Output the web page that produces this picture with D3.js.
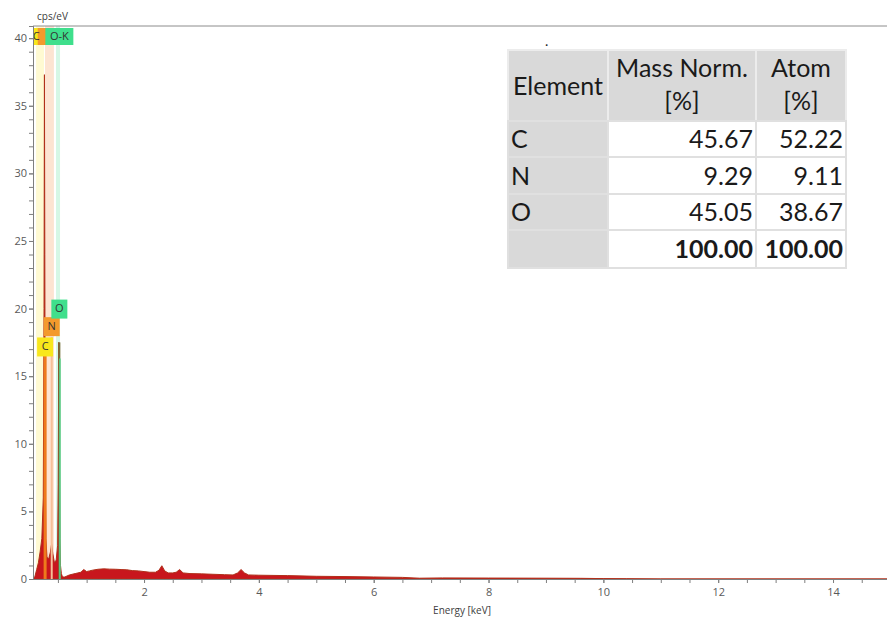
<!DOCTYPE html>
<html>
<head>
<meta charset="utf-8">
<script src="https://cdn.jsdelivr.net/npm/d3@7"></script>
<style>
  body { margin: 0; background: #fff; }
  svg { display: block; }
</style>
</head>
<body>
<div id="chart"></div>
<script>
// Size of the page and of the plot area
const width = 887, height = 621;
const margin = { top: 26, right: 0, bottom: 42, left: 33 };

// Spectrum (keV, cps/eV)
const energy = [0.07, 0.10, 0.13, 0.16, 0.19, 0.22, 0.245, 0.258, 0.265, 0.272, 0.28, 0.29,
  0.31, 0.34, 0.37, 0.39, 0.41, 0.44, 0.47, 0.495, 0.505, 0.515, 0.525, 0.535, 0.545, 0.56,
  0.58, 0.62, 0.7, 0.8, 0.9, 0.95, 1.0, 1.05, 1.1, 1.2, 1.3, 1.4, 1.5, 1.6, 1.7, 1.8, 1.9,
  2.0, 2.1, 2.2, 2.26, 2.31, 2.36, 2.42, 2.5, 2.56, 2.62, 2.68, 2.8, 3.0, 3.2, 3.4, 3.55,
  3.63, 3.69, 3.75, 3.82, 4.0, 4.5, 5.0, 5.5, 6.0, 6.5, 6.8, 7.2, 8.0, 9.0, 9.6, 10.0, 10.4,
  11.0, 15.0];
const counts = [0, 0.2, 0.7, 1.2, 2.0, 3.0, 6, 20, 37.3, 24, 8, 3,
  1.6, 1.5, 2.0, 2.6, 1.9, 1.2, 1.4, 2.5, 7, 17.5, 10, 3, 1.0, 0.4,
  0.15, 0.15, 0.3, 0.4, 0.5, 0.7, 0.55, 0.6, 0.65, 0.72, 0.75, 0.73, 0.72, 0.7, 0.68, 0.62, 0.6,
  0.55, 0.5, 0.5, 0.65, 0.98, 0.6, 0.45, 0.45, 0.5, 0.7, 0.45, 0.4, 0.38, 0.35, 0.32, 0.3,
  0.45, 0.7, 0.45, 0.3, 0.28, 0.25, 0.2, 0.18, 0.15, 0.12, 0.06, 0.08, 0.07, 0.06, 0.05, 0.03, 0.02,
  0, 0];

// Element markers
const elements = ["C", "N", "O"];
const lineEnergy = [0.277, 0.392, 0.525];
const markerTop = [16.6, 17.9, 17.5];
const bandLo = [0.12, 0.275, 0.467];
const bandHi = [0.258, 0.43, 0.537];
// what stays readable of the line labels along the top
const topText = ["C", "", "O-K"];

// Quantification table
const tableHead = [["Element", ""], ["Mass Norm.", "[%]"], ["Atom", "[%]"]];
const tableElements = ["C", "N", "O", ""];
const massNorm = ["45.67", "9.29", "45.05", "100.00"];
const atomPct = ["52.22", "9.11", "38.67", "100.00"];

const xTicks = [2, 4, 6, 8, 10, 12, 14];
const yTicks = [0, 5, 10, 15, 20, 25, 30, 35, 40];

// colours
const bandColor = ["#fffad2", "#fde4d2", "#d6f7e6"];
const markerColor = ["#ee7a1c", "#f6bf98", "#75703a"];
const boxColor = ["#f8e71c", "#f39a2c", "#3fdf8c"];

const svg = d3.select("#chart").append("svg")
    .attr("width", width)
    .attr("height", height)
    .style("font-family", "'Open Sans', sans-serif");

const x = d3.scaleLinear().domain([0.066, 14.94]).range([margin.left, width - margin.right]);
const y = d3.scaleLinear().domain([0, 40.9]).range([height - margin.bottom, margin.top]);

// element bands behind everything
svg.selectAll("rect.band").data(elements).enter().append("rect")
    .attr("class", "band")
    .attr("x", (d, i) => x(bandLo[i]))
    .attr("width", (d, i) => x(bandHi[i]) - x(bandLo[i]))
    .attr("y", y(40.9))
    .attr("height", y(0) - y(40.9))
    .attr("fill", (d, i) => bandColor[i]);

// the spectrum
const spec = energy.map((e, i) => ({ e: e, c: counts[i] }));
const area = d3.area()
    .x(d => x(d.e))
    .y0(y(0))
    .y1(d => y(d.c));
svg.append("path")
    .datum(spec)
    .attr("d", area)
    .attr("fill", "#c8161d")
    .attr("stroke", "#b0301a")
    .attr("stroke-width", 1);

// marker lines over the spectrum
svg.selectAll("line.marker").data(elements).enter().append("line")
    .attr("class", "marker")
    .attr("x1", (d, i) => x(lineEnergy[i]))
    .attr("x2", (d, i) => x(lineEnergy[i]))
    .attr("y1", y(0))
    .attr("y2", (d, i) => y(markerTop[i]))
    .attr("stroke", (d, i) => markerColor[i])
    .attr("stroke-width", (d, i) => i === 0 ? 3 : 2);

// green O line next to the peak
svg.append("line")
    .attr("x1", x(0.535)).attr("x2", x(0.535))
    .attr("y1", y(0)).attr("y2", y(16.3))
    .attr("stroke", "#52d98e").attr("stroke-width", 1.5);

// element labels near the peaks (drawn C, N, O so O sits on top)
const labelY = [17.2, 18.7, 20.0];
const peakLab = svg.selectAll("g.elab").data(elements).enter().append("g")
    .attr("class", "elab")
    .attr("transform", (d, i) => `translate(${x(lineEnergy[i])},${y(labelY[i])})`);
peakLab.append("rect")
    .attr("x", -8).attr("y", -9).attr("width", 16).attr("height", 19)
    .attr("fill", (d, i) => boxColor[i]);
peakLab.append("text")
    .attr("text-anchor", "middle").attr("dy", "0.35em")
    .attr("font-size", 11).attr("fill", "#333")
    .text(d => d);

// line labels along the top, O-K covers most of the others
const topLab = svg.selectAll("g.tlab").data(elements).enter().append("g")
    .attr("class", "tlab")
    .attr("transform", (d, i) => `translate(${x(lineEnergy[i])},${margin.top + 10})`);
topLab.append("rect")
    .attr("x", -14).attr("y", -8).attr("width", 28).attr("height", 17)
    .attr("fill", (d, i) => boxColor[i]);
topLab.filter((d, i) => i === 2).append("text")
    .attr("text-anchor", "middle").attr("dy", "0.35em")
    .attr("font-size", 11).attr("fill", "#333")
    .text(topText[2]);
svg.append("text")
    .attr("x", x(0.12)).attr("y", margin.top + 10).attr("dy", "0.35em")
    .attr("text-anchor", "middle")
    .attr("font-size", 11).attr("fill", "#333")
    .text(topText[0]);

// clip the labels that fall left of the axis
svg.append("rect")
    .attr("x", 0).attr("y", 0).attr("width", margin.left).attr("height", height)
    .attr("fill", "#fff");

// frame lines
svg.append("line")
    .attr("x1", margin.left).attr("x2", width)
    .attr("y1", margin.top).attr("y2", margin.top)
    .attr("stroke", "#8c8c8c");

// axes
const yAxis = svg.append("g")
    .attr("transform", `translate(${margin.left},0)`)
    .call(d3.axisLeft(y).tickValues(d3.range(0, 41, 1)).tickSize(4).tickFormat(""));
yAxis.append("g")
    .call(d3.axisLeft(y).tickValues(yTicks).tickSize(4).tickPadding(2));
yAxis.selectAll("path, line").attr("stroke", "#7f7f7f");
yAxis.selectAll("text").attr("fill", "#595959").attr("font-size", 11)
    .attr("font-family", "'Open Sans', sans-serif");

const xAxis = svg.append("g")
    .attr("transform", `translate(0,${height - margin.bottom})`)
    .call(d3.axisBottom(x).tickValues(d3.range(0.5, 15, 0.5)).tickSize(4).tickFormat("").tickSizeOuter(0));
xAxis.append("g")
    .call(d3.axisBottom(x).tickValues(xTicks).tickSize(4).tickPadding(5).tickSizeOuter(0));
xAxis.selectAll("path, line").attr("stroke", "#7f7f7f");
xAxis.selectAll("text").attr("fill", "#595959").attr("font-size", 11)
    .attr("font-family", "'Open Sans', sans-serif");

svg.append("text")
    .attr("x", 462).attr("y", 614)
    .attr("text-anchor", "middle")
    .attr("font-size", 10).attr("fill", "#404040")
    .text("Energy [keV]");

svg.append("text")
    .attr("x", 37).attr("y", 20)
    .attr("font-size", 10).attr("fill", "#404040")
    .text("cps/eV");

// quantification table
const colX = [508, 608, 756, 846];
const rowY = [50, 121, 157, 194, 230, 268];
const fs = 25;
const tbl = svg.append("g").style("font-family", "Lato, 'Open Sans', sans-serif");

// header cells
tableHead.forEach((h, c) => {
  tbl.append("rect")
      .attr("x", colX[c]).attr("y", rowY[0])
      .attr("width", colX[c + 1] - colX[c]).attr("height", rowY[1] - rowY[0])
      .attr("fill", "#d9d9d9").attr("stroke", "#ececec").attr("stroke-width", 2);
  const cx = (colX[c] + colX[c + 1]) / 2;
  if (h[1] === "") {
    tbl.append("text").attr("x", cx).attr("y", (rowY[0] + rowY[1]) / 2 + 9)
        .attr("text-anchor", "middle").attr("font-size", fs).attr("fill", "#1a1a1a").text(h[0]);
  } else {
    tbl.append("text").attr("x", cx).attr("y", rowY[0] + 27)
        .attr("text-anchor", "middle").attr("font-size", fs).attr("fill", "#1a1a1a").text(h[0]);
    tbl.append("text").attr("x", cx).attr("y", rowY[0] + 60)
        .attr("text-anchor", "middle").attr("font-size", fs).attr("fill", "#1a1a1a").text(h[1]);
  }
});

tableElements.forEach((el, r) => {
  const y0 = rowY[r + 1], y1 = rowY[r + 2];
  const bold = r === tableElements.length - 1;
  [el, massNorm[r], atomPct[r]].forEach((v, c) => {
    tbl.append("rect")
        .attr("x", colX[c]).attr("y", y0)
        .attr("width", colX[c + 1] - colX[c]).attr("height", y1 - y0)
        .attr("fill", c === 0 ? "#d9d9d9" : "#fff")
        .attr("stroke", "#e0e0e0").attr("stroke-width", 2);
    tbl.append("text")
        .attr("x", c === 0 ? colX[c] + 3 : colX[c + 1] - 3)
        .attr("y", (y0 + y1) / 2 + 9)
        .attr("text-anchor", c === 0 ? "start" : "end")
        .attr("font-size", fs)
        .attr("font-weight", bold ? "bold" : "normal")
        .attr("fill", "#1a1a1a")
        .text(v);
  });
});

tbl.append("text").attr("x", 545).attr("y", 46).attr("font-size", 14).attr("fill", "#222").text(".");
</script>
</body>
</html>
